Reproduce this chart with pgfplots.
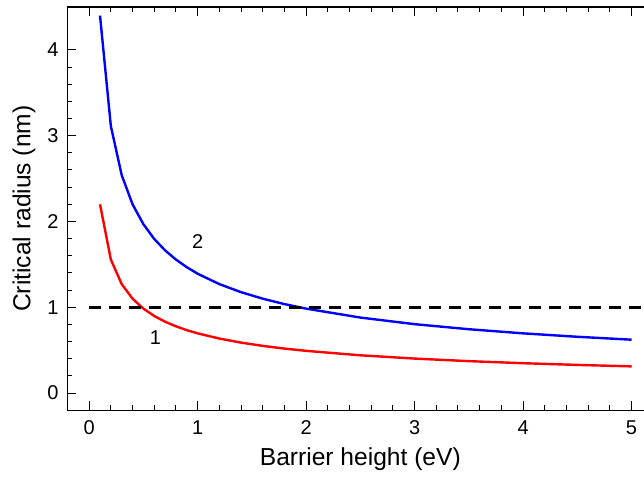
\documentclass[border=0pt]{standalone}
\usepackage{fontspec}
\setmainfont{Liberation Sans}
\usepackage{pgfplots}
\pgfplotsset{compat=1.18}

\begin{document}
\begin{tikzpicture}
\begin{axis}[
  scale only axis, width=293pt, height=201.7pt,
  xmin=-0.2, xmax=5.2, ymin=-0.2, ymax=4.5,
  xtick={0,1,2,3,4,5}, ytick={0,1,2,3,4},
  minor x tick num=4, minor y tick num=4,
  tick align=inside,
  major tick length=4.5pt, minor tick length=2.5pt,
  tick style={line width=0.5pt, black},
  axis line style={line width=0.7pt},
  /pgf/number format/assume math mode=true,
  ticklabel style={font=\fontsize{10}{11}\selectfont},
  xticklabel style={yshift=-1.5pt},
  yticklabel style={xshift=-1pt},
  label style={font=\fontsize{12.3}{14}\selectfont},
  xlabel={Barrier height (eV)},
  ylabel={Critical radius (nm)},
  xlabel style={yshift=0pt},
  ylabel style={yshift=-1pt},
  clip=false,
]
% curve 1
\addplot[red, line width=1.2pt] coordinates {
(0.1,2.200)(0.2,1.556)(0.3,1.270)(0.4,1.100)(0.5,0.984)(0.6,0.898)(0.7,0.832)
(0.8,0.778)(0.9,0.733)(1.0,0.696)(1.2,0.635)(1.4,0.588)(1.6,0.550)(1.8,0.518)
(2.0,0.492)(2.5,0.440)(3.0,0.402)(3.5,0.372)(4.0,0.348)(4.5,0.328)(5.0,0.311)};
% curve 2
\addplot[blue, line width=1.2pt] coordinates {
(0.1,4.400)(0.2,3.111)(0.3,2.540)(0.4,2.200)(0.5,1.968)(0.6,1.796)(0.7,1.663)
(0.8,1.556)(0.9,1.467)(1.0,1.391)(1.2,1.270)(1.4,1.176)(1.6,1.100)(1.8,1.037)
(2.0,0.984)(2.5,0.880)(3.0,0.803)(3.5,0.744)(4.0,0.696)(4.5,0.656)(5.0,0.622)};
% threshold
\addplot[black, line width=1.3pt, dash pattern=on 6pt off 4pt] coordinates {(0,1)(5.2,1)};
\node[font=\fontsize{10}{11}\selectfont] at (axis cs:1.0,1.77) {2};
\node[font=\fontsize{10}{11}\selectfont] at (axis cs:0.61,0.65) {1};
\coordinate (cut) at (axis cs:5.115,4.5);
\end{axis}
\pgfresetboundingbox
\path[use as bounding box] ([xshift=-33.75pt,yshift=-34pt]current axis.south west) rectangle ([yshift=3.5pt]cut);
\end{tikzpicture}
\end{document}
